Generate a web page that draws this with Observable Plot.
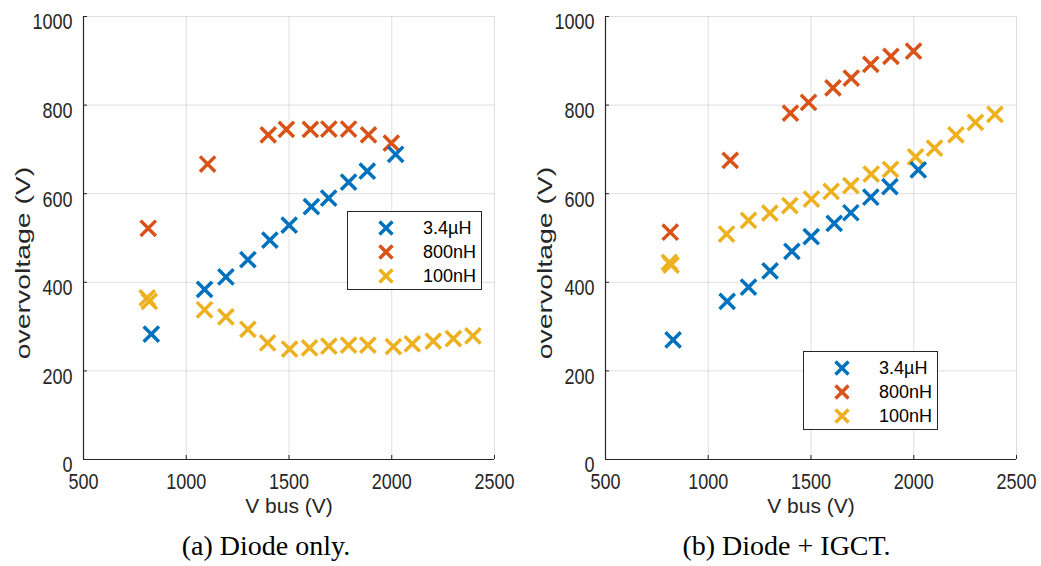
<!DOCTYPE html>
<html><head><meta charset="utf-8">
<script src="https://cdn.jsdelivr.net/npm/d3@7"></script>
<script src="https://cdn.jsdelivr.net/npm/@observablehq/plot@0.6"></script>
<style>
body{margin:0;background:#fff;}
#wrap{display:flex;width:1041px;height:566px;overflow:hidden;}
.panel{position:relative;}
.panel svg{display:block;}
.cap{font-family:"Liberation Serif","Times New Roman",serif;font-size:28px;text-align:center;color:#000;line-height:32px;padding-left:12px;}
.legend{position:absolute;background:#fff;border:1px solid #262626;box-sizing:border-box;font-family:"Liberation Sans",Arial,sans-serif;font-size:18px;color:#000;}
.legend .row{position:absolute;left:0;height:24px;line-height:24px;}
.legend svg{position:absolute;left:29px;top:3px;}
.legend span{position:absolute;left:75px;top:0;white-space:nowrap;}
</style></head><body>
<div id="wrap"></div>
<script>
const seriesNames = ["3.4\u00b5H", "800nH", "100nH"];
const seriesColors = ["#0072BD", "#D95319", "#EDB120"];
const xTicks = [500, 1000, 1500, 2000, 2500];
const yTicks = [0, 200, 400, 600, 800, 1000];
const xLabel = "V bus (V)";
const yLabel = "overvoltage (V)";
const captions = ["(a) Diode only.", "(b) Diode + IGCT."];

// (a) Diode only
const aBlueX = [830, 1089, 1193, 1300, 1407, 1501, 1609, 1693, 1790, 1881, 2019];
const aBlueY = [283, 384, 412, 451, 495, 529, 571, 590, 626, 651, 689];
const aOrangeX = [815, 1104, 1399, 1487, 1604, 1694, 1790, 1887, 1998];
const aOrangeY = [522, 667, 733, 745, 745, 746, 746, 733, 714];
const aYellowX = [810, 820, 1089, 1193, 1300, 1396, 1503, 1600, 1694, 1790, 1884, 2008, 2100, 2202, 2300, 2395];
const aYellowY = [365, 357, 338, 322, 294, 263, 249, 252, 256, 258, 258, 255, 261, 267, 273, 279];

// (b) Diode + IGCT
const bBlueX = [829, 1092, 1196, 1301, 1407, 1501, 1613, 1694, 1791, 1884, 2022];
const bBlueY = [270, 357, 389, 426, 470, 503, 533, 557, 592, 616, 654];
const bOrangeX = [815, 1107, 1400, 1488, 1607, 1696, 1791, 1889, 1999];
const bOrangeY = [513, 675, 782, 806, 839, 861, 892, 910, 922];
const bYellowX = [811, 819, 1089, 1196, 1300, 1397, 1502, 1598, 1694, 1793, 1887, 2009, 2101, 2205, 2300, 2395];
const bYellowY = [445, 439, 509, 540, 556, 573, 588, 605, 618, 644, 655, 683, 703, 733, 761, 779];

const FONT = '"Liberation Sans", Arial, Helvetica, sans-serif';
const fmt = d => String(d);

function rows(xs, ys, name) { return xs.map((x, i) => ({x, y: ys[i], name})); }

function makePanel(sets, cfg) {
  // draw order: 100nH, 800nH, 3.4µH (blue on top)
  const data = [...sets[2], ...sets[1], ...sets[0]];
  const svg = Plot.plot({
    width: cfg.width, height: 530,
    marginLeft: cfg.ml, marginRight: cfg.mr, marginTop: 16, marginBottom: 71,
    style: {fontFamily: FONT, fontSize: "18px", color: "#262626", background: "#fff", overflow: "visible"},
    x: {domain: [500, 2500]},
    y: {domain: [0, 1000]},
    color: {domain: seriesNames, range: seriesColors},
    marks: [
      Plot.gridX(xTicks, {stroke: "#262626", strokeOpacity: 0.15}),
      Plot.gridY(yTicks, {stroke: "#262626", strokeOpacity: 0.15}),
      Plot.axisX(xTicks, {tickSize: 0, tickPadding: 14, label: null, fontSize: 18, tickFormat: fmt, ariaLabel: "xticklabels"}),
      Plot.axisY(yTicks, {tickSize: 0, tickPadding: 11, label: null, fontSize: 18, dy: 6, tickFormat: fmt, ariaLabel: "yticklabels"}),
      Plot.axisX(xTicks, {tickSize: -4, fill: "none", label: null, stroke: "#262626"}),
      Plot.axisY(yTicks, {tickSize: -4, fill: "none", label: null, stroke: "#262626"}),
      Plot.ruleX([500], {stroke: "#262626", strokeWidth: 1.2}),
      Plot.ruleY([0], {stroke: "#262626", strokeWidth: 1.2}),
      Plot.dot(data, {x: "x", y: "y", stroke: "name", symbol: "times", r: 7, strokeWidth: 3.5}),
      Plot.text([xLabel], {frameAnchor: "bottom", dy: 53, fontSize: 21, fill: "#262626"}),
      Plot.text([yLabel], {frameAnchor: "left", textAnchor: "middle", dx: -60, dy: 25, rotate: -90, fontSize: 20, fill: "#262626"})
    ]
  });
  svg.querySelectorAll("text").forEach(t => {
    if (t.textContent === yLabel) {
      t.setAttribute("transform", (t.getAttribute("transform") || "") + " scale(1.42,1)");
    } else if (/^\d+$/.test(t.textContent)) {
      t.setAttribute("transform", (t.getAttribute("transform") || "") + " scale(1,1.2)");
    }
  });
  const div = document.createElement("div");
  div.className = "panel";
  div.style.width = cfg.width + "px";
  div.appendChild(svg);
  // legend
  const lg = document.createElement("div");
  lg.className = "legend";
  lg.style.left = cfg.lgLeft + "px"; lg.style.top = cfg.lgTop + "px";
  lg.style.width = "135px"; lg.style.height = "79px";
  seriesNames.forEach((n, i) => {
    const r = document.createElement("div");
    r.className = "row";
    r.style.top = (4 + i * 24) + "px";
    r.style.width = "100%";
    r.innerHTML = `<svg width="18" height="18" viewBox="-9 -9 18 18"><path d="M-6.5,-6.5L6.5,6.5M-6.5,6.5L6.5,-6.5" stroke="${seriesColors[i]}" stroke-width="3.5" fill="none"/></svg><span>${n}</span>`;
    lg.appendChild(r);
  });
  div.appendChild(lg);
  const cap = document.createElement("div");
  cap.className = "cap";
  cap.textContent = cfg.caption;
  div.appendChild(cap);
  return div;
}

const wrap = document.getElementById("wrap");
wrap.appendChild(makePanel(
  [rows(aBlueX, aBlueY, seriesNames[0]), rows(aOrangeX, aOrangeY, seriesNames[1]), rows(aYellowX, aYellowY, seriesNames[2])],
  {width: 520, ml: 83, mr: 26, caption: captions[0], lgLeft: 347, lgTop: 211}
));
wrap.appendChild(makePanel(
  [rows(bBlueX, bBlueY, seriesNames[0]), rows(bOrangeX, bOrangeY, seriesNames[1]), rows(bYellowX, bYellowY, seriesNames[2])],
  {width: 521, ml: 85, mr: 25, caption: captions[1], lgLeft: 283, lgTop: 351}
));
</script>
</body></html>
